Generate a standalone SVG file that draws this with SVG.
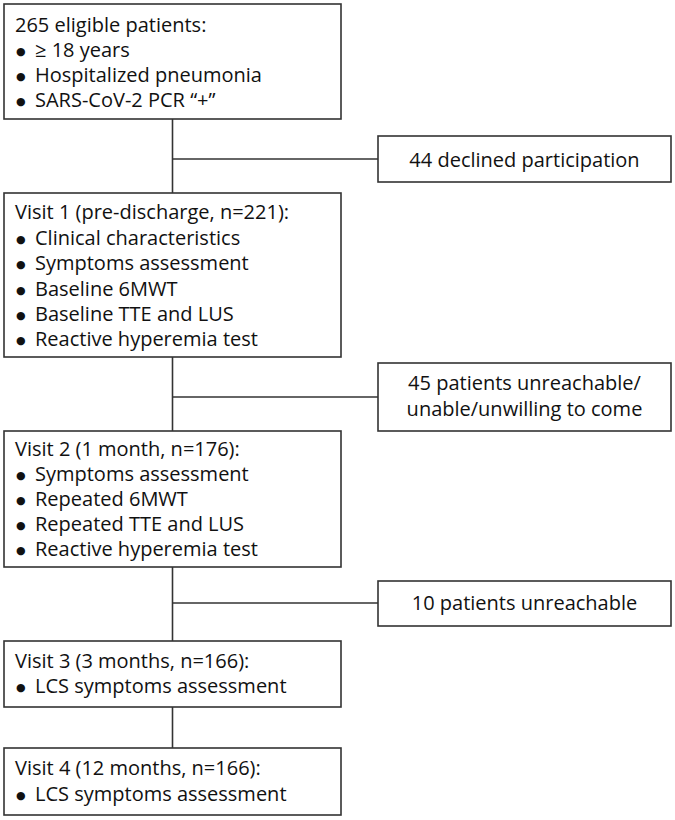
<svg xmlns="http://www.w3.org/2000/svg" width="675" height="820" viewBox="0 0 675 820">
<style>
.box{fill:#fff;stroke:#333;stroke-width:1.6}
.ln{fill:none;stroke:#333;stroke-width:1.6}
text{font-family:"Open Sans","Noto Sans",sans-serif;font-size:20px;fill:#111}
.b{font-size:11px;font-family:"DejaVu Sans",sans-serif}
.c{text-anchor:middle}
</style>
<rect width="675" height="820" fill="#fff"/>
<g id="connectors">
<line class="ln" x1="172.5" y1="119" x2="172.5" y2="193"/>
<line class="ln" x1="172.5" y1="159" x2="378" y2="159"/>
<line class="ln" x1="172.5" y1="357" x2="172.5" y2="431"/>
<line class="ln" x1="172.5" y1="397" x2="378" y2="397"/>
<line class="ln" x1="172.5" y1="567" x2="172.5" y2="641"/>
<line class="ln" x1="172.5" y1="603" x2="378" y2="603"/>
<line class="ln" x1="172.5" y1="707" x2="172.5" y2="748"/>
</g>
<g id="n1">
<rect class="box" x="4" y="4" width="337" height="115"/>
<text x="15" y="32">265 eligible patients:</text>
<text x="16" y="55"><tspan class="b">●</tspan><tspan x="35" y="57">≥ 18 years</tspan></text>
<text x="16" y="80"><tspan class="b">●</tspan><tspan x="35" y="82">Hospitalized pneumonia</tspan></text>
<text x="16" y="105"><tspan class="b">●</tspan><tspan x="35" y="107">SARS-CoV-2 PCR “+”</tspan></text>
</g>
<g id="n2">
<rect class="box" x="378" y="136" width="293" height="46"/>
<text class="c" x="524.5" y="167">44 declined participation</text>
</g>
<g id="n3">
<rect class="box" x="4" y="193" width="337" height="164"/>
<text x="15" y="219">Visit 1 (pre-discharge, n=221):</text>
<text x="16" y="243"><tspan class="b">●</tspan><tspan x="35" y="245">Clinical characteristics</tspan></text>
<text x="16" y="268"><tspan class="b">●</tspan><tspan x="35" y="270">Symptoms assessment</tspan></text>
<text x="16" y="294"><tspan class="b">●</tspan><tspan x="35" y="296">Baseline 6MWT</tspan></text>
<text x="16" y="319"><tspan class="b">●</tspan><tspan x="35" y="321">Baseline TTE and LUS</tspan></text>
<text x="16" y="344"><tspan class="b">●</tspan><tspan x="35" y="346">Reactive hyperemia test</tspan></text>
</g>
<g id="n4">
<rect class="box" x="378" y="363" width="293" height="68"/>
<text class="c" x="524.5" y="390">45 patients unreachable/</text>
<text class="c" x="524.5" y="416">unable/unwilling to come</text>
</g>
<g id="n5">
<rect class="box" x="4" y="431" width="337" height="136"/>
<text x="15" y="456">Visit 2 (1 month, n=176):</text>
<text x="16" y="479"><tspan class="b">●</tspan><tspan x="35" y="481">Symptoms assessment</tspan></text>
<text x="16" y="504"><tspan class="b">●</tspan><tspan x="35" y="506">Repeated 6MWT</tspan></text>
<text x="16" y="529"><tspan class="b">●</tspan><tspan x="35" y="531">Repeated TTE and LUS</tspan></text>
<text x="16" y="554"><tspan class="b">●</tspan><tspan x="35" y="556">Reactive hyperemia test</tspan></text>
</g>
<g id="n6">
<rect class="box" x="378" y="581" width="293" height="45"/>
<text class="c" x="524.5" y="610">10 patients unreachable</text>
</g>
<g id="n7">
<rect class="box" x="4" y="641" width="337" height="66"/>
<text x="15" y="668">Visit 3 (3 months, n=166):</text>
<text x="16" y="691"><tspan class="b">●</tspan><tspan x="35" y="693">LCS symptoms assessment</tspan></text>
</g>
<g id="n8">
<rect class="box" x="4" y="748" width="337" height="67"/>
<text x="15" y="775">Visit 4 (12 months, n=166):</text>
<text x="16" y="799"><tspan class="b">●</tspan><tspan x="35" y="801">LCS symptoms assessment</tspan></text>
</g>
</svg>
